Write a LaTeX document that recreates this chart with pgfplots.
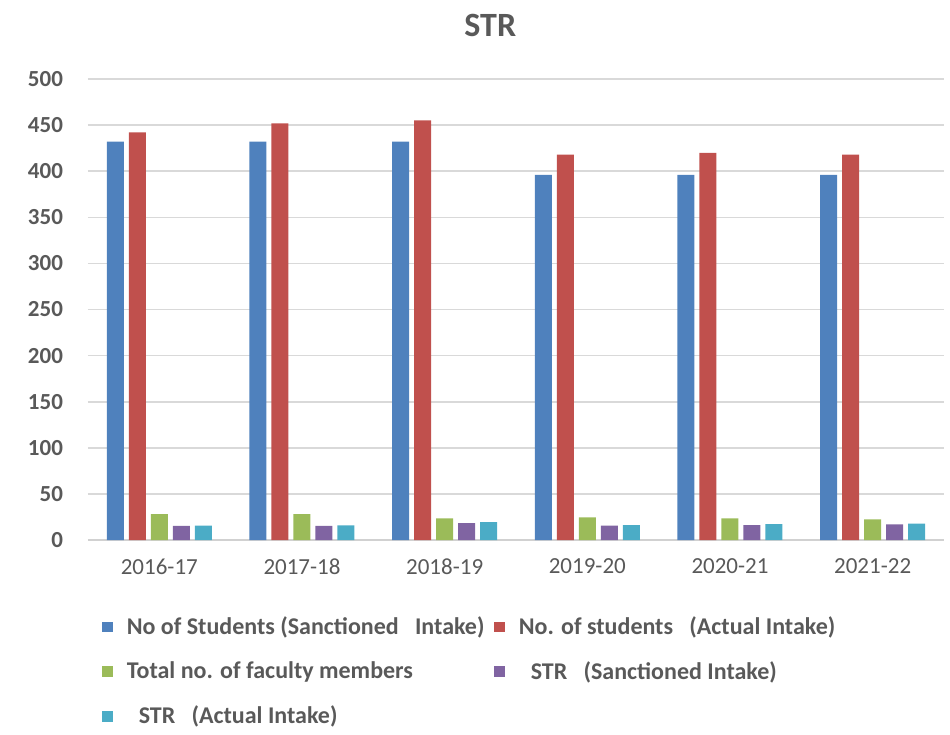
\documentclass[border=0pt]{standalone}
\usepackage{fontspec}
\setmainfont{Carlito}
\usepackage{pgfplots}
\usepackage{pgfplotstable}
\pgfplotsset{compat=1.18}
\definecolor{c1}{HTML}{4F81BD}
\definecolor{c2}{HTML}{C0504D}
\definecolor{c3}{HTML}{9BBB59}
\definecolor{c4}{HTML}{8064A2}
\definecolor{c5}{HTML}{4BACC6}
\definecolor{txt}{HTML}{595959}
\pgfplotstableread{
x sanc actual fac strs stra
0 432 442 28 15.3 15.5
1 432 452 28 15.3 15.8
2 432 455 23.5 18.4 19.5
3 396 418 24.5 15.5 16.2
4 396 420 23.5 16.2 17.3
5 396 418 22.5 16.9 17.7
}\datatable
\begin{document}
\begin{tikzpicture}
\begin{axis}[
  scale only axis, width=428pt, height=230.5pt,
  ybar=2.5pt, bar width=8.5pt,
  xmin=-0.5, xmax=5.5, ymin=0, ymax=500,
  ytick={0,50,...,500},
  xtick=data,
  xticklabels={2016-17,2017-18,2018-19,2019-20,2020-21,2021-22},
  separate axis lines,
  y axis line style={draw=none},
  x axis line style={draw=black!18, line width=0.9pt},
  axis x line*=bottom,
  ymajorgrids,
  grid style={draw=black!15, line width=0.8pt},
  major tick length=0pt,
  tick label style={font=\fontsize{11.5}{13}\selectfont, text=txt},
  yticklabel style={font=\fontsize{11.5}{13}\selectfont\bfseries, xshift=-9pt},
  xticklabel style={yshift=-6pt},
  /pgf/number format/assume math mode=true,
  clip=false,
  legend columns=2,
  legend cell align=left,
  legend style={draw=none, fill=none, font=\fontsize{12}{14}\selectfont\bfseries, text=txt,
    at={(0,0)}, anchor=north west, xshift=4pt, yshift=-34pt,
    /tikz/every odd column/.append style={column sep=5pt},
    /tikz/every even column/.append style={column sep=3pt},
    row sep=8pt},
  legend image code/.code={\fill[#1] (0pt,-2.6pt) rectangle (5.2pt,2.6pt);},
]
\addplot[fill=c1, draw=none] table[x=x, y=sanc] \datatable;
\addplot[fill=c2, draw=none] table[x=x, y=actual] \datatable;
\addplot[fill=c3, draw=none] table[x=x, y=fac] \datatable;
\addplot[fill=c4, draw=none] table[x=x, y=strs] \datatable;
\addplot[fill=c5, draw=none] table[x=x, y=stra] \datatable;
\legend{No of Students (Sanctioned\ \ \ Intake),No. of students\ \ \ (Actual Intake),Total no. of faculty members,\hspace{6pt}STR\ \ \ (Sanctioned Intake),\hspace{6pt}STR\ \ \ (Actual Intake)}
\node[font=\fontsize{17}{20}\selectfont\bfseries, text=txt] at ([yshift=27pt]rel axis cs:0.47,1) {STR};
\coordinate (sw) at (rel axis cs:0,0);
\coordinate (ne) at (rel axis cs:1,1);
\end{axis}
\path ([shift={(-44pt,-92.5pt)}]sw) rectangle ([shift={(3pt,39.5pt)}]ne);
\end{tikzpicture}
\end{document}
